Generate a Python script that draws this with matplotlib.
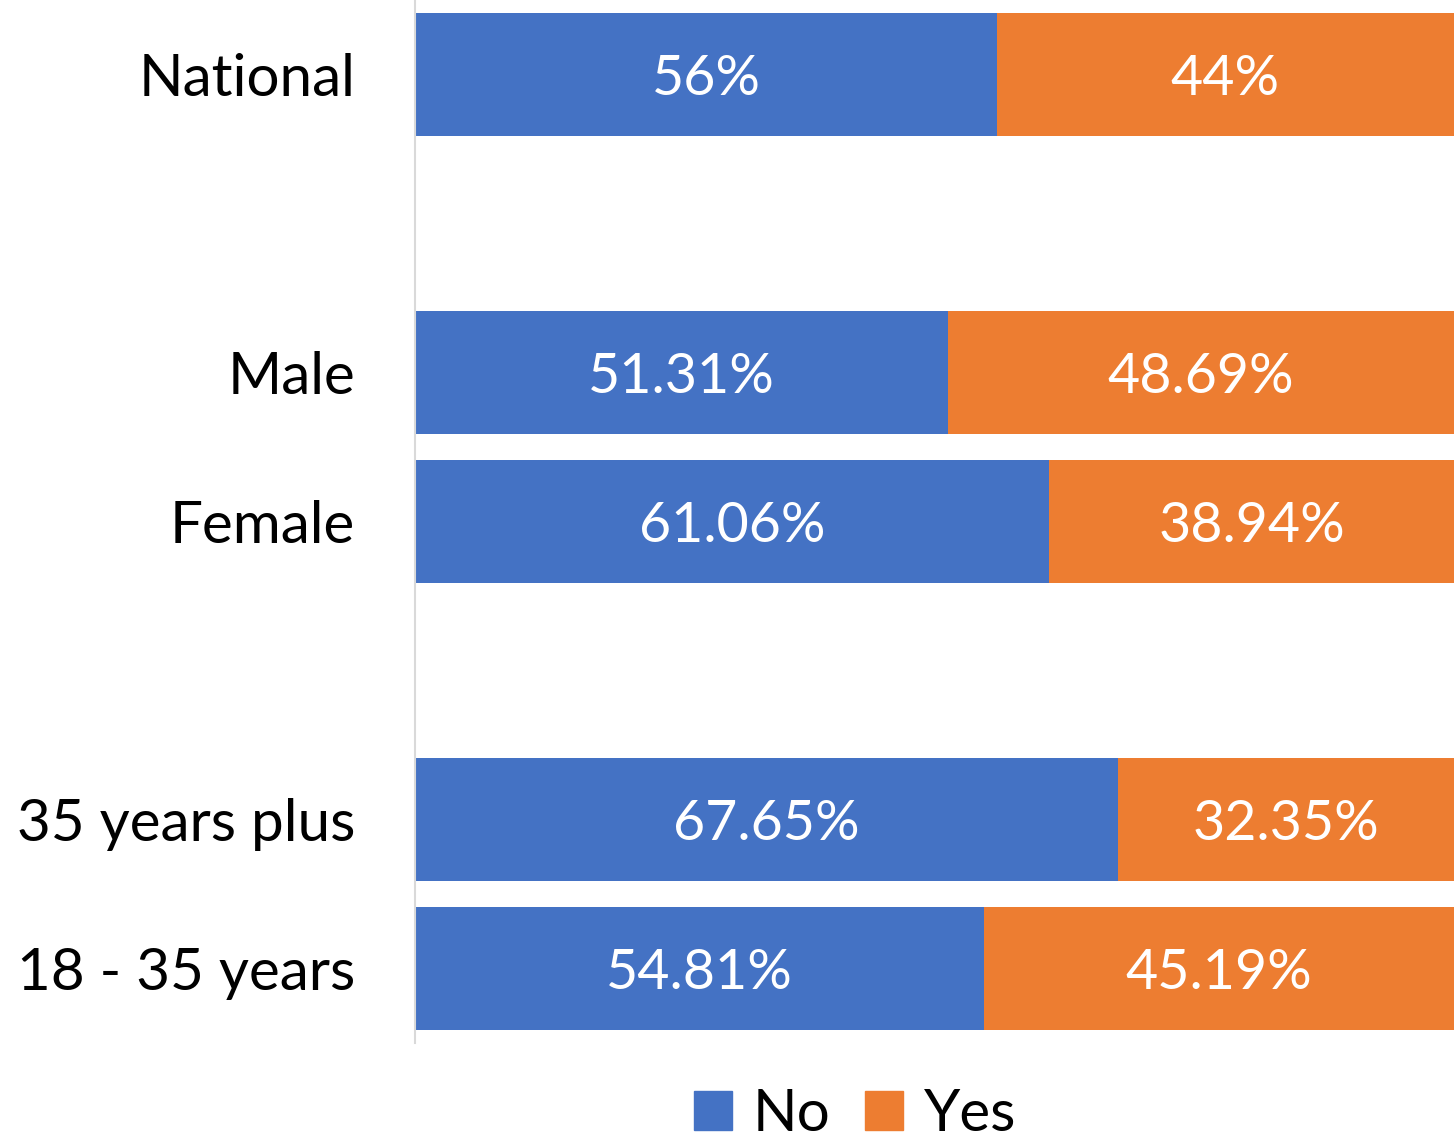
import matplotlib.pyplot as plt
from matplotlib.patches import Patch

# categories top to bottom, blanks are the gaps between groups
categories = ['National', '', 'Male', 'Female', '', '35 years plus', '18 - 35 years']
no_vals = [56, None, 51.31, 61.06, None, 67.65, 54.81]
yes_vals = [44, None, 48.69, 38.94, None, 32.35, 45.19]
no_labels = ['56%', '', '51.31%', '61.06%', '', '67.65%', '54.81%']
yes_labels = ['44%', '', '48.69%', '38.94%', '', '32.35%', '45.19%']

blue = '#4472C4'
orange = '#ED7D31'

plt.rcParams['font.family'] = ['Lato', 'DejaVu Sans']

fig = plt.figure(figsize=(14.54, 11.41), dpi=100)
ax = fig.add_axes([415 / 1454, 1 - 1043 / 1141, 1039 / 1454, 1043 / 1141])

for i, cat in enumerate(categories):
    if no_vals[i] is None:
        continue
    ax.barh(i, no_vals[i], height=0.83, color=blue)
    ax.barh(i, yes_vals[i], left=no_vals[i], height=0.83, color=orange)
    ax.text(no_vals[i] / 2, i, no_labels[i], color='white', ha='center', va='center_baseline', fontsize=40)
    ax.text(no_vals[i] + yes_vals[i] / 2, i, yes_labels[i], color='white', ha='center', va='center_baseline', fontsize=40)

ax.set_xlim(0, 100)
ax.set_ylim(6.5, -0.5)
ax.set_yticks(range(len(categories)))
ax.set_yticklabels(categories, fontsize=42)
ax.tick_params(axis='y', length=0, pad=43)
ax.set_xticks([])
for s in ['top', 'right', 'bottom']:
    ax.spines[s].set_visible(False)
ax.spines['left'].set_color('#D9D9D9')
ax.spines['left'].set_linewidth(1.5)

handles = [Patch(color=blue, label='No'), Patch(color=orange, label='Yes')]
fig.legend(handles=handles, loc='lower center', bbox_to_anchor=(0.588, -0.046), ncol=2, frameon=False,
           fontsize=42, handlelength=0.65, handleheight=0.65, handletextpad=0.35, columnspacing=0.6)

fig.savefig('out.png', dpi=100)
